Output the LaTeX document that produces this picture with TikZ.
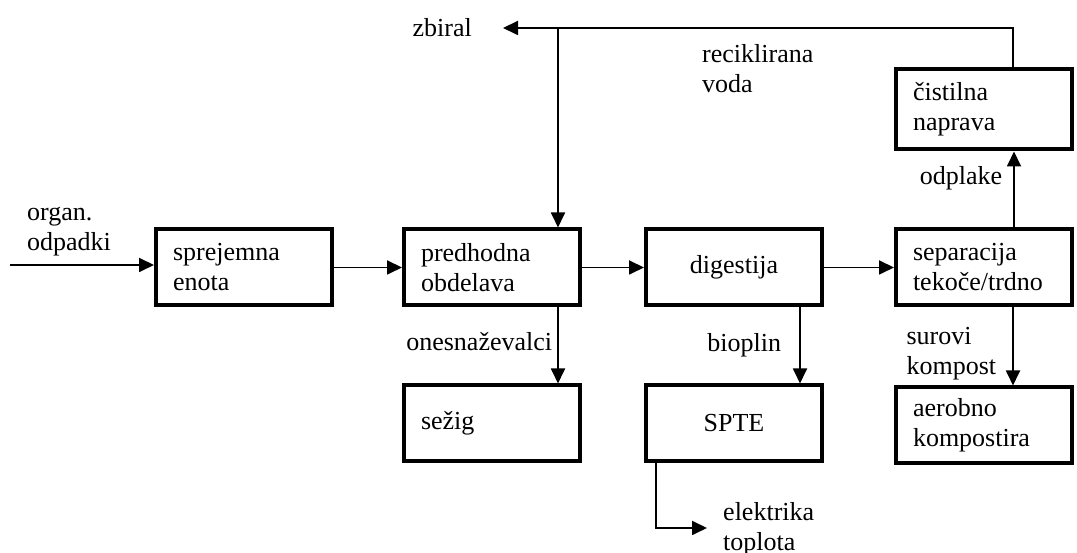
\documentclass[tikz,border=0pt]{standalone}
\usepackage{fontspec}
\setmainfont{Liberation Serif}
\usepackage{tikz}
\usetikzlibrary{arrows.meta, positioning, calc}
\tikzset{
  box/.style={
    draw, line width=4pt, minimum width=176pt, minimum height=#1,
    text width=142pt, inner xsep=17pt, align=left,
    font=\fontsize{26pt}{30pt}\selectfont
  },
  box/.default=76pt,
  lbl/.style={inner sep=3pt, align=left, font=\fontsize{26pt}{30pt}\selectfont},
  arrow/.style={-{Triangle[length=15pt, width=14pt]}, line width=1.8pt}
}

\begin{document}
\begin{tikzpicture}[x=1pt, y=1pt]
  \useasboundingbox (0,0) rectangle (1077,553);

  \node[box] (recv) at (244,285.5) {sprejemna\\enota};
  \node[box, right=68pt of recv] (prep) {predhodna\\obdelava};
  \node[box, right=62pt of prep, align=center] (dig) {digestija};
  \node[box, right=70pt of dig] (sep) {separacija\\tekoče/trdno};
  \node[box=80pt, above=76pt of sep] (clean) {čistilna\\naprava};
  \node[box, below=76pt of prep] (burn) {sežig};
  \node[box, below=76pt of dig, align=center] (chp) {SPTE};
  \node[box, below=78pt of sep] (comp) {aerobno\\kompostira};

  \coordinate (src) at (10,288);
  \coordinate (collect) at (503,525);
  \coordinate (out) at (707,25);
  \coordinate (tap) at ([xshift=66pt]prep.north);

  \node[lbl, above right=6pt and 14pt of src] (waste) {organ.\\odpadki};
  \node[lbl, left=28pt of collect] (store) {zbiral};
  \node[lbl, below right=13pt and 196pt of collect] (water) {reciklirana\\voda};
  \node[lbl, right=13pt of out, yshift=-1pt] (energy) {elektrika\\toplota};

  \draw[arrow] (src) -- (src -| recv.west);
  \draw[arrow] (recv) -- (prep);
  \draw[arrow] (prep) -- (dig);
  \draw[arrow] (dig) -- (sep);
  \draw[arrow] ([xshift=30pt]sep.north) -- ([xshift=30pt]clean.south)
    node[lbl, midway, left=8pt, yshift=11pt] (sewage) {odplake};
  \draw[arrow] ([xshift=29pt]clean.north) |- (collect);
  \draw[arrow] (tap |- collect) -- (tap);
  \draw[arrow] ([xshift=66pt]prep.south) -- ([xshift=66pt]burn.north)
    node[lbl, midway, left=2pt, yshift=4pt] (pollut) {onesnaževalci};
  \draw[arrow] ([xshift=66pt]dig.south) -- ([xshift=66pt]chp.north)
    node[lbl, midway, left=15pt] (gas) {bioplin};
  \draw[arrow] ([xshift=29pt]sep.south) -- ([xshift=29pt]comp.north)
    node[lbl, midway, left=13pt, yshift=-7pt] (raw) {surovi\\kompost};
  \draw[arrow] ([xshift=-78pt]chp.south) |- (out);
\end{tikzpicture}
\end{document}
